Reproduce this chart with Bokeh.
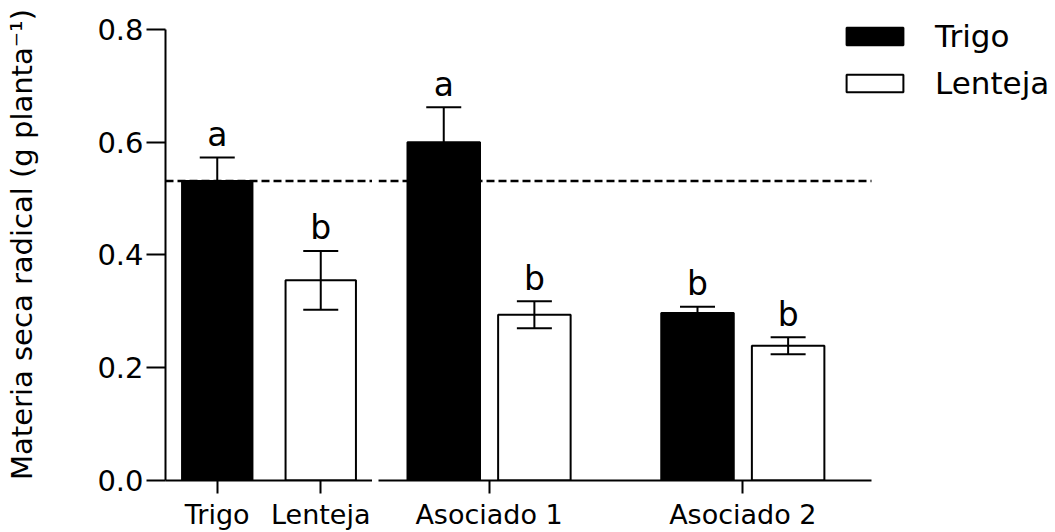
from bokeh.plotting import figure
from bokeh.layouts import row
from bokeh.models import (ColumnDataSource, Range1d, FixedTicker, Whisker, TeeHead,
                          Span, Legend, LegendItem, PrintfTickFormatter)
from bokeh.core.properties import value
from bokeh.embed import file_html
from bokeh.resources import INLINE

FONT = "DejaVu Sans"

# ---------------- data ----------------
mono_labels = ["Trigo", "Lenteja"]
mono_means = [0.531, 0.355]
mono_errs = [0.042, 0.052]
mono_letters = ["a", "b"]

groups = ["Asociado 1", "Asociado 2"]
series = ["Trigo", "Lenteja"]
trigo_means = [0.600, 0.297]
trigo_errs = [0.062, 0.011]
trigo_letters = ["a", "b"]
lenteja_means = [0.294, 0.239]
lenteja_errs = [0.024, 0.015]
lenteja_letters = ["b", "b"]

y_ticks = [0.0, 0.2, 0.4, 0.6, 0.8]
y_max = 0.8
y_label = "Materia seca radical (g planta\u207b\u00b9)"
reference_value = mono_means[0]
series_fill = {"Trigo": "black", "Lenteja": "white"}

# ---------------- layout constants ----------------
FIG_H = 532
TOP = 8
BOTTOM = 51
AXIS_TOP_PX = 29     # screen y of the top tick
LEFT_AXIS = 165
LEFT_FRAME_W = 207
RIGHT_GAP = 6
RIGHT_AXIS_W = 493
TOTAL_W = 1055
GAP = 0.8            # gap between groups in slot units
LETTER_PAD = 0.041   # data units above error bar
DASH = "8 4"

frame_bottom = FIG_H - BOTTOM
y_top = y_max * (frame_bottom - TOP) / (frame_bottom - AXIS_TOP_PX)


def style_axes(p):
    p.grid.visible = False
    p.outline_line_color = None
    p.background_fill_color = None
    p.border_fill_color = None
    for ax in p.axis:
        ax.axis_line_width = 2
        ax.axis_line_color = "black"
        ax.major_tick_line_width = 2
        ax.major_tick_line_color = "black"
        ax.major_tick_in = 0
        ax.minor_tick_line_color = None
        ax.major_label_text_font = FONT
        ax.major_label_text_color = "black"
        ax.axis_label_text_font = FONT
        ax.axis_label_text_font_style = "normal"
        ax.axis_label_text_color = "black"


def add_errors_and_letters(p, xs, means, errs, letters):
    src = ColumnDataSource(dict(
        x=xs,
        upper=[m + e for m, e in zip(means, errs)],
        lower=[m - e for m, e in zip(means, errs)],
        ly=[m + e + LETTER_PAD for m, e in zip(means, errs)],
        letter=letters,
    ))
    w = Whisker(source=src, base="x", upper="upper", lower="lower",
                line_width=2, line_color="black", level="overlay",
                upper_head=TeeHead(size=35, line_width=2, line_color="black"),
                lower_head=TeeHead(size=35, line_width=2, line_color="black"))
    p.add_layout(w)
    p.text(x="x", y="ly", text="letter", source=src, text_font=value(FONT),
           text_font_size="33px", text_align="center", text_baseline="alphabetic",
           text_color="black")


# ---------------- left panel: monocultures ----------------
p1 = figure(width=LEFT_AXIS + LEFT_FRAME_W, height=FIG_H,
            x_range=Range1d(0, len(mono_labels)),
            y_range=Range1d(0, y_top), output_backend="svg", toolbar_location=None,
            min_border_left=LEFT_AXIS, min_border_right=0, min_border_top=TOP,
            min_border_bottom=BOTTOM)
x1 = [i + 0.5 for i in range(len(mono_labels))]
p1.add_layout(Span(location=reference_value, dimension="width", line_dash=DASH,
                   line_width=2.5, line_color="black", level="underlay"))
p1.vbar(x=x1, top=mono_means, width=0.68,
        fill_color=[series_fill[s] for s in mono_labels],
        line_color="black", line_width=2)
add_errors_and_letters(p1, x1, mono_means, mono_errs, mono_letters)
style_axes(p1)
p1.yaxis.bounds = (0, y_max)
p1.yaxis.ticker = FixedTicker(ticks=y_ticks)
p1.yaxis.formatter = PrintfTickFormatter(format="%.1f")
p1.yaxis.major_tick_out = 19
p1.yaxis.major_label_standoff = 3
p1.yaxis.major_label_text_font_size = "29px"
p1.yaxis.axis_label = y_label
p1.yaxis.axis_label_text_font_size = "29px"
p1.yaxis.axis_label_standoff = 55
p1.xaxis.ticker = FixedTicker(ticks=x1)
p1.xaxis.major_label_overrides = {x: lab for x, lab in zip(x1, mono_labels)}
p1.xaxis.major_tick_out = 13
p1.xaxis.major_label_standoff = 5
p1.xaxis.major_label_text_font_size = "27px"

# ---------------- right panel: intercrops ----------------
n_s = len(series)
span_units = len(groups) * n_s + (len(groups) - 1) * GAP
x_start = -0.22
axis_end = span_units + 0.42
right_w = TOTAL_W - (LEFT_AXIS + LEFT_FRAME_W)
frame_w = right_w - RIGHT_GAP
x_end = x_start + (axis_end - x_start) * frame_w / RIGHT_AXIS_W

p2 = figure(width=right_w, height=FIG_H, x_range=Range1d(x_start, x_end),
            y_range=p1.y_range, output_backend="svg", toolbar_location=None,
            min_border_left=RIGHT_GAP, min_border_right=0, min_border_top=TOP,
            min_border_bottom=BOTTOM, y_axis_location=None)
p2.segment(x0=[x_start], y0=[reference_value], x1=[axis_end], y1=[reference_value],
           line_dash=DASH, line_width=2.5, line_color="black")

legend_items = []
for si, s in enumerate(series):
    means = trigo_means if s == "Trigo" else lenteja_means
    errs = trigo_errs if s == "Trigo" else lenteja_errs
    letters = trigo_letters if s == "Trigo" else lenteja_letters
    xs = [g * (n_s + GAP) + si + 0.5 for g in range(len(groups))]
    r = p2.vbar(x=xs, top=means, width=0.8, fill_color=series_fill[s],
                line_color="black", line_width=2)
    add_errors_and_letters(p2, xs, means, errs, letters)
    legend_items.append(LegendItem(label=s, renderers=[r]))

style_axes(p2)
group_centers = [g * (n_s + GAP) + n_s / 2 for g in range(len(groups))]
p2.xaxis.bounds = (x_start, axis_end)
p2.xaxis.ticker = FixedTicker(ticks=group_centers)
p2.xaxis.major_label_overrides = {x: lab for x, lab in zip(group_centers, groups)}
p2.xaxis.major_tick_out = 13
p2.xaxis.major_label_standoff = 5
p2.xaxis.major_label_text_font_size = "27px"

legend = Legend(items=legend_items, location=(461, 379), padding=0, margin=0,
                border_line_color=None, background_fill_alpha=0,
                glyph_width=71, glyph_height=22, label_standoff=25, spacing=11,
                label_text_font=FONT, label_text_font_size="31px",
                label_text_color="black")
p2.add_layout(legend)

out = row(p1, p2)
open("out.html", "w").write(file_html(out, INLINE))
